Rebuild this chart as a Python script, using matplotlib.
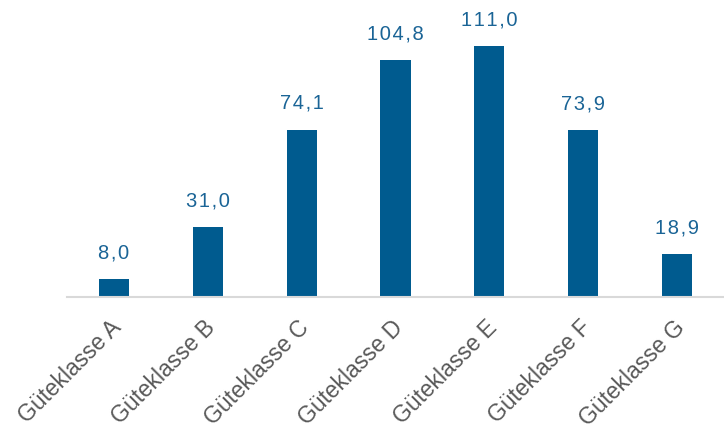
import matplotlib.pyplot as plt
import matplotlib.transforms as mtransforms

klassen = ['Güteklasse A', 'Güteklasse B', 'Güteklasse C', 'Güteklasse D',
           'Güteklasse E', 'Güteklasse F', 'Güteklasse G']
werte = [8.0, 31.0, 74.1, 104.8, 111.0, 73.9, 18.9]

plt.rcParams['font.family'] = ['Liberation Sans', 'DejaVu Sans']

fig = plt.figure(figsize=(7.24, 4.30), dpi=100)
ax = fig.add_axes([67 / 724, 133 / 430, 657 / 724, 297 / 430])

x = range(len(klassen))
bars = ax.bar(x, werte, width=0.32, color='#005b8f')

for b, v in zip(bars, werte):
    txt = '\u200a'.join(f'{v:.1f}'.replace('.', ','))
    ax.annotate(txt,
                (b.get_x() + b.get_width() / 2, b.get_height()),
                xytext=(0, 12), textcoords='offset points',
                ha='center', va='bottom', fontsize=14.5, color='#1a6496')

ax.set_xlim(-0.5, len(klassen) - 0.5)
ax.set_ylim(0, 131.5)
ax.set_xticks(list(x))
ax.set_xticklabels(klassen, rotation=45, ha='right', rotation_mode='anchor',
                   fontsize=16.5, color='#595959')
ax.tick_params(axis='x', length=0, pad=13.5)
shift = mtransforms.ScaledTranslation(-4 / 100, 0, fig.dpi_scale_trans)
for lbl in ax.get_xticklabels():
    lbl.set_transform(lbl.get_transform() + shift)
ax.set_yticks([])
for s in ['top', 'right', 'left']:
    ax.spines[s].set_visible(False)
ax.spines['bottom'].set_color('#d9d9d9')
ax.spines['bottom'].set_linewidth(1.5)

fig.savefig('out.png', dpi=100)
